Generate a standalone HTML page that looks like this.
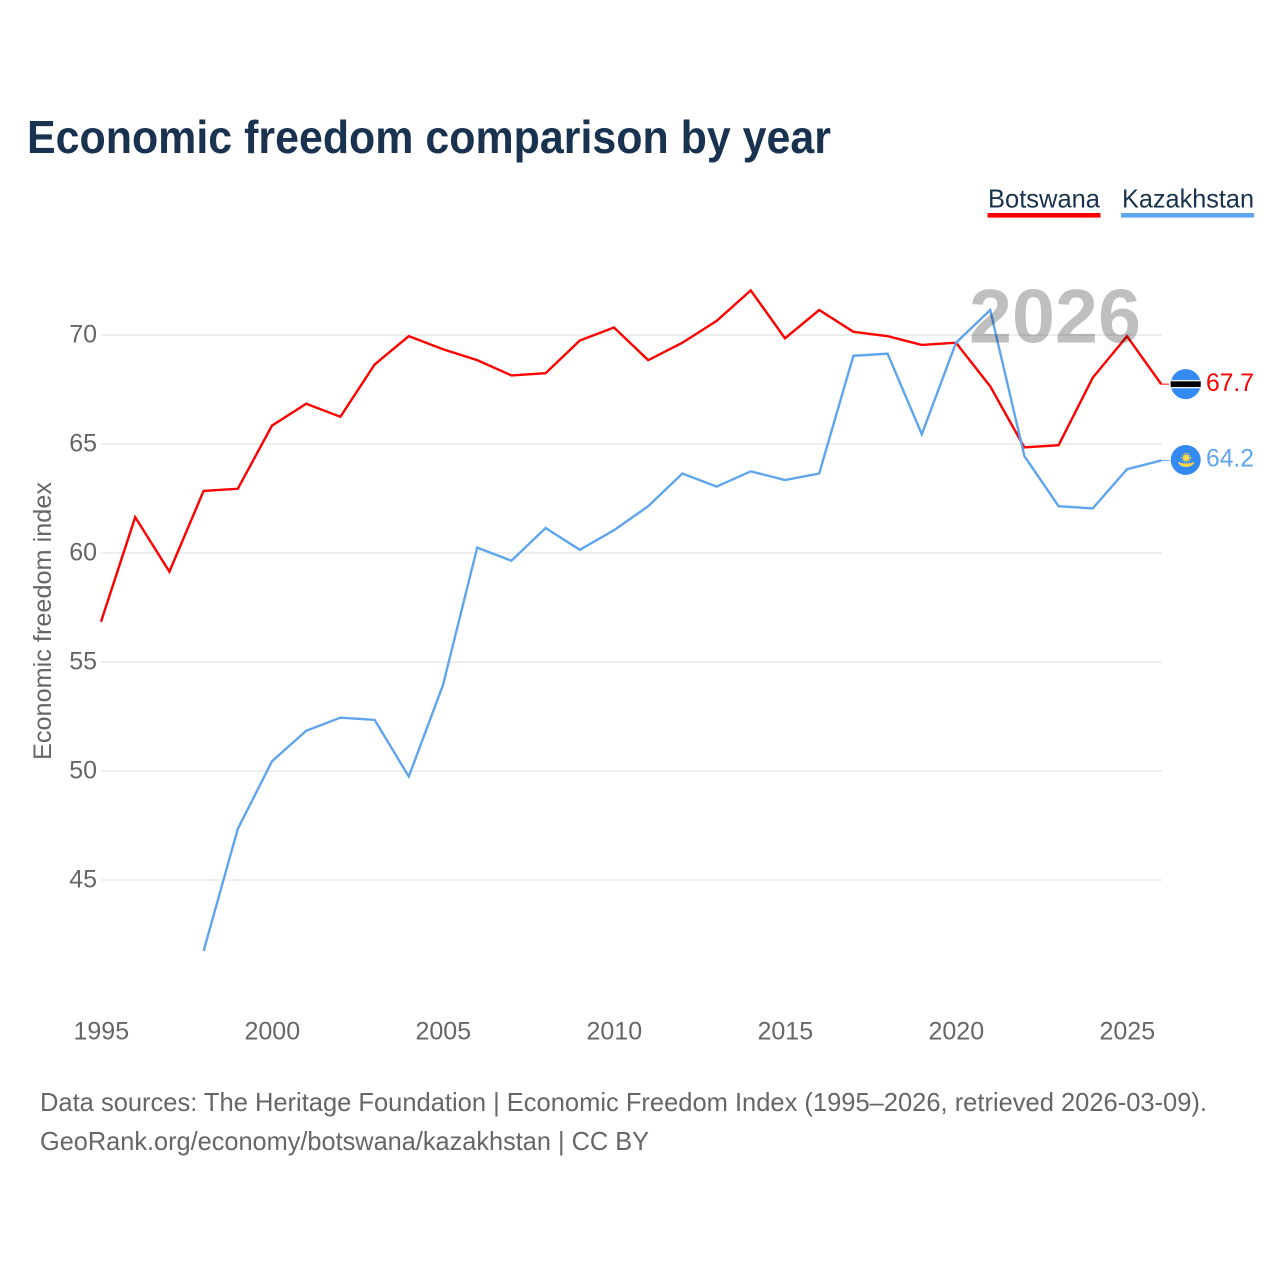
<!DOCTYPE html>
<html lang="en">
<head>
<meta charset="utf-8">
<title>Economic freedom comparison by year</title>
<style>
html,body{margin:0;padding:0;background:#fff;width:1280px;height:1280px;overflow:hidden}
svg{display:block}
text{font-family:"Liberation Sans",sans-serif}
</style>
</head>
<body>
<svg id="chart" xmlns="http://www.w3.org/2000/svg" width="1280" height="1280" viewBox="0 0 1280 1280">
  <rect width="1280" height="1280" fill="#fff"/>
  <text x="27" y="153" font-size="46" font-weight="bold" fill="#18324f" textLength="804" lengthAdjust="spacingAndGlyphs">Economic freedom comparison by year</text>

  <g>
    <g>
      <text x="988" y="207.5" font-size="26" fill="#18324f" textLength="112" lengthAdjust="spacingAndGlyphs">Botswana</text>
      <rect x="987.5" y="213" width="113" height="4.6" fill="#ff0000"/>
    </g>
    <g>
      <text x="1122" y="207.5" font-size="26" fill="#18324f" textLength="132" lengthAdjust="spacingAndGlyphs">Kazakhstan</text>
      <rect x="1121" y="213" width="133" height="4.6" fill="#5fa5ee"/>
    </g>
  </g>

  <g id="grid"></g>
  <g id="yticks"></g>
  <g id="xticks"></g>
  <text transform="translate(51,621) rotate(-90)" text-anchor="middle" font-size="25" fill="#666666" textLength="278" lengthAdjust="spacingAndGlyphs">Economic freedom index</text>

  <g id="series"></g>

  <text x="969" y="342.5" font-size="76" font-weight="bold" fill="#000" fill-opacity="0.25" textLength="172" lengthAdjust="spacingAndGlyphs">2026</text>

  <g id="ends"></g>

  <text x="40" y="1111" font-size="26" fill="#666666" textLength="1167" lengthAdjust="spacingAndGlyphs">Data sources: The Heritage Foundation | Economic Freedom Index (1995–2026, retrieved 2026-03-09).</text>
  <text x="40" y="1150" font-size="26" fill="#666666" textLength="609" lengthAdjust="spacingAndGlyphs">GeoRank.org/economy/botswana/kazakhstan | CC BY</text>
</svg>

<script>
const years = [1995,1996,1997,1998,1999,2000,2001,2002,2003,2004,2005,2006,2007,2008,2009,2010,2011,2012,2013,2014,2015,2016,2017,2018,2019,2020,2021,2022,2023,2024,2025,2026];
const botswanaValues = [56.8,61.6,59.1,62.8,62.9,65.8,66.8,66.2,68.6,69.9,69.3,68.8,68.1,68.2,69.7,70.3,68.8,69.6,70.6,72.0,69.8,71.1,70.1,69.9,69.5,69.6,67.6,64.8,64.9,68.0,69.9,67.7];
const kazakhstanValues = [null,null,null,41.7,47.3,50.4,51.8,52.4,52.3,49.7,53.9,60.2,59.6,61.1,60.1,61.0,62.1,63.6,63.0,63.7,63.3,63.6,69.0,69.1,65.4,69.6,71.1,64.4,62.1,62.0,63.8,64.2];
const yTickValues = [45,50,55,60,65,70];
const xTickValues = [1995,2000,2005,2010,2015,2020,2025];

const NS = 'http://www.w3.org/2000/svg';
const xScale = function (year) { return 101 + (year - 1995) * 34.2; };
const yScale = function (value) { return 334 + (70 - value) * 21.8; };

function make(tag, parent, attrs, text) {
  const el = document.createElementNS(NS, tag);
  Object.keys(attrs).forEach(function (k) { el.setAttribute(k, attrs[k]); });
  if (text !== undefined) el.textContent = text;
  parent.appendChild(el);
  return el;
}

const grid = document.getElementById('grid');
const yticks = document.getElementById('yticks');
yTickValues.forEach(function (v) {
  const line = make('line', grid, { x1: 101, x2: 1162, y1: yScale(v) + 1, y2: yScale(v) + 1, stroke: '#eeeeee', 'stroke-width': 2 });
  
  
  const label = make('text', yticks, { x: 97, y: yScale(v) + 8.5, 'text-anchor': 'end', 'font-size': 25, fill: '#666666' }, String(v));
  
  
});

const xticks = document.getElementById('xticks');
xTickValues.forEach(function (y) {
  const label = make('text', xticks, { x: xScale(y) + 0.3, y: 1039.5, 'text-anchor': 'middle', 'font-size': 25, fill: '#666666' }, String(y));
  
  
});

function buildPath(values) {
  let d = '';
  values.forEach(function (v, i) {
    if (v === null) return;
    d += (d === '' ? 'M' : 'L') + xScale(years[i]).toFixed(2) + ' ' + yScale(v).toFixed(2);
  });
  return d;
}

const series = document.getElementById('series');
const botswanaLine = make('path', series, { d: buildPath(botswanaValues), fill: 'none', stroke: '#ff0000', 'stroke-width': 2.4, 'stroke-linejoin': 'miter' });


const kazakhstanLine = make('path', series, { d: buildPath(kazakhstanValues), fill: 'none', stroke: '#5fa5ee', 'stroke-width': 2.4, 'stroke-linejoin': 'miter' });



const ends = document.getElementById('ends');
const lastYear = years[years.length - 1];
const endX = xScale(lastYear);
const bwValue = botswanaValues[botswanaValues.length - 1];
const kzValue = kazakhstanValues[kazakhstanValues.length - 1];
const bwY = yScale(bwValue);
const kzY = yScale(kzValue);

const bwConn = make('line', ends, { x1: endX, x2: endX + 8, y1: bwY, y2: bwY, stroke: '#ff0000', 'stroke-width': 1 });


const kzConn = make('line', ends, { x1: endX, x2: endX + 8, y1: kzY, y2: kzY, stroke: '#5fa5ee', 'stroke-width': 1 });



const bwFlag = make('g', ends, { transform: 'translate(' + (endX + 24.5) + ',' + bwY + ')' });


make('circle', bwFlag, { r: 15, fill: '#338af3' });
make('rect', bwFlag, { x: -14.4, y: -4.2, width: 28.8, height: 8.4, fill: '#f0f0f0' });
make('rect', bwFlag, { x: -15, y: -2.8, width: 30, height: 5.6, fill: '#000000' });

const kzFlag = make('g', ends, { transform: 'translate(' + (endX + 24.5) + ',' + (kzY - 0.5) + ')' });


make('circle', kzFlag, { r: 15, fill: '#338af3' });
make('circle', kzFlag, { cx: 0.5, cy: -2.2, r: 3.4, fill: '#ffda44' });
make('circle', kzFlag, { cx: 0.5, cy: -2.2, r: 4.6, fill: 'none', stroke: '#ffda44', 'stroke-width': 1, 'stroke-dasharray': '1.4 1.4' });
make('path', kzFlag, { d: 'M-8 1.8 Q-4 3.6 0.5 3.6 Q5 3.6 9 1.8 Q7 6.8 0.5 7.2 Q-6 6.8 -8 1.8Z', fill: '#ffda44' });

const bwLabel = make('text', ends, { x: 1206, y: bwY + 7, 'font-size': 25, fill: '#ff0000', textLength: 48, lengthAdjust: 'spacingAndGlyphs' }, bwValue.toFixed(1));


const kzLabel = make('text', ends, { x: 1206, y: kzY + 6, 'font-size': 25, fill: '#5fa5ee', textLength: 48, lengthAdjust: 'spacingAndGlyphs' }, kzValue.toFixed(1));


</script>
</body>
</html>
